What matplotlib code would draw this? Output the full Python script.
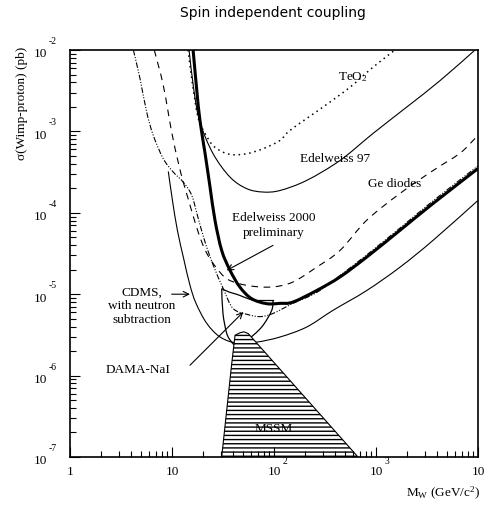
import matplotlib
matplotlib.use('Agg')
import matplotlib.pyplot as plt
import numpy as np
from matplotlib.path import Path
from matplotlib.patches import PathPatch
from matplotlib.transforms import blended_transform_factory, offset_copy

plt.rcParams['font.family'] = 'Liberation Serif'
plt.rcParams['mathtext.fontset'] = 'custom'
plt.rcParams['mathtext.rm'] = 'Liberation Serif'
plt.rcParams['mathtext.it'] = 'Liberation Serif:italic'

# limit curves, WIMP mass (GeV) vs cross section (pb)
edw2000_m = [16.1, 17.5, 18.8, 21.1, 23.6, 26.4, 30.7, 37.1, 46.4, 60.4, 84.8, 114.5, 153, 262, 444, 811,
             1720, 3620, 10000]
edw2000_s = [1e-2, 3.18e-3, 1.36e-3, 5.36e-4, 2.07e-4, 8.07e-5, 3.45e-5, 1.96e-5, 1.22e-5, 8.8e-6, 7.65e-6,
             7.72e-6, 8.0e-6, 1.11e-5, 1.63e-5, 2.86e-5, 6.1e-5, 1.30e-4, 3.5e-4]

dashdot_m = [4.18, 4.86, 5.65, 6.56, 8.22, 10.3, 12.9, 15.6, 18.1, 21.1, 25.4, 31.8, 39.6, 54.4, 72.9, 97.8,
             153, 262, 444, 811, 1720, 3620, 10000]
dashdot_s = [1e-2, 4.43e-3, 1.72e-3, 8.9e-4, 4.61e-4, 3.16e-4, 2.38e-4, 1.64e-4, 8.5e-5, 4.36e-5, 2.26e-5,
             1.17e-5, 6.7e-6, 5.66e-6, 5.3e-6, 5.8e-6, 7.7e-6, 1.05e-5, 1.70e-5, 3.04e-5, 6.5e-5, 1.40e-4, 3.77e-4]

ge_m = [6.7, 8.22, 9.93, 11.5, 12.9, 14.4, 16.8, 19.6, 22.5, 27.0, 33.8, 44.4, 62.3, 97.8, 153, 262, 444, 811,
        1720, 3620, 6660, 9350]
ge_s = [1e-2, 3.66e-3, 9.8e-4, 4.19e-4, 2.38e-4, 1.49e-4, 7.7e-5, 4.36e-5, 3.0e-5, 2.14e-5, 1.57e-5, 1.36e-5,
        1.25e-5, 1.23e-5, 1.41e-5, 2.15e-5, 3.45e-5, 8.1e-5, 1.73e-4, 3.3e-4, 5.4e-4, 8.2e-4]

teo2_m = [14.4, 15.7, 18.0, 21.1, 25.2, 31.6, 39.6, 54.0, 78.0, 114.5, 143.5, 302, 556, 935, 1535]
teo2_s = [1e-2, 4.2e-3, 1.48e-3, 9.44e-4, 6.73e-4, 5.56e-4, 5.16e-4, 5.32e-4, 6.12e-4, 7.74e-4, 1.03e-3,
          1.99e-3, 3.49e-3, 6.15e-3, 1e-2]

edw97_m = [14.7, 16.4, 18.8, 25.2, 37.1, 54.0, 78.0, 114.5, 209, 444, 935, 2000, 4240, 9350]
edw97_s = [1e-2, 3.18e-3, 1.3e-3, 5.36e-4, 2.74e-4, 1.98e-4, 1.80e-4, 1.88e-4, 2.5e-4, 4.4e-4, 9.44e-4,
           1.99e-3, 4.2e-3, 1e-2]

cdms_m = [9.2, 10.1, 11.3, 13.0, 15.0, 17.2, 21.9, 29.6, 43.1, 67.7, 114.5, 209, 379, 811, 1720, 3620, 10000]
cdms_s = [3.22e-4, 1.42e-4, 6.08e-5, 2.75e-5, 1.29e-5, 7.73e-6, 4.39e-6, 2.98e-6, 2.51e-6, 2.58e-6, 2.98e-6,
          3.95e-6, 6.34e-6, 1.11e-5, 2.15e-5, 4.58e-5, 1.42e-4]

# DAMA-NaI allowed region: curved top edge, flat top-right, rounded bottom
dama_top_m = [30.7, 36.5, 43.4, 52.0, 62.2]
dama_top_s = [1.17e-5, 1.06e-5, 9.95e-6, 9.1e-6, 8.4e-6]
dama_low_m = [97.7, 94.8, 75.7, 54.0, 43.0, 38.5, 34.4, 31.6, 30.7]
dama_low_s = [8.4e-6, 6.3e-6, 3.95e-6, 2.7e-6, 2.35e-6, 2.58e-6, 3.3e-6, 5.8e-6, 1.17e-5]

mssm_m = [30.7, 38.5, 41.5, 46.4, 50.8, 56.0, 666]
mssm_s = [1e-7, 1.4e-6, 3.13e-6, 3.36e-6, 3.45e-6, 3.28e-6, 1e-7]

# arrows: (tail, tip)
arr_edw = [(97.8, 3.98e-5), (34.4, 1.96e-5)]
arr_cdms = [(9.93, 1.0e-5), (15.0, 1.0e-5)]
arr_dama = [(15.0, 1.34e-6), (50.0, 6.04e-6)]


def smooth_path(xs, ys):
    # Catmull-Rom through the read points, drawn as Bezier segments in log space
    p = np.column_stack([np.log10(xs), np.log10(ys)])
    ext = np.vstack([p[0], p, p[-1]])
    verts = [p[0]]
    codes = [Path.MOVETO]
    for i in range(len(p) - 1):
        p0, p1, p2, p3 = ext[i], ext[i + 1], ext[i + 2], ext[i + 3]
        verts += [p1 + (p2 - p0) / 6, p2 - (p3 - p1) / 6, p2]
        codes += [Path.CURVE4] * 3
    return Path(10.0 ** np.array(verts), codes)


fig = plt.figure(figsize=(4.85, 5.05), dpi=100)
ax = fig.add_axes([70 / 485, 1 - 457 / 505, 408 / 485, 407 / 505])
ax.set_xscale('log')
ax.set_yscale('log')
ax.set_xlim(1, 1e4)
ax.set_ylim(1e-7, 1e-2)


def curve(xs, ys, **kw):
    ax.add_patch(PathPatch(smooth_path(xs, ys), fill=False, edgecolor='black', **kw))


curve(edw2000_m, edw2000_s, lw=2.2)
curve(dashdot_m, dashdot_s, lw=0.8, linestyle=(0, (5, 1.5, 1, 1.5, 1, 1.5)))
curve(ge_m, ge_s, lw=0.8, linestyle=(0, (6, 5)))
curve(teo2_m, teo2_s, lw=1.1, linestyle=(0, (1, 2.5)))
curve(edw97_m, edw97_s, lw=0.8)
curve(cdms_m, cdms_s, lw=0.8)
curve(dama_top_m, dama_top_s, lw=0.9)
ax.plot([dama_top_m[-1], dama_low_m[0]], [dama_top_s[-1], dama_low_s[0]], color='black', lw=0.9)
curve(dama_low_m, dama_low_s, lw=0.9)
ax.fill(mssm_m, mssm_s, facecolor='white', edgecolor='black', hatch='----', lw=0.8)

fs = 9.5
ax.text(595, 4.63e-3, 'TeO$_{\\mathregular{2}}$', fontsize=fs, ha='center', va='center')
ax.text(396, 4.61e-4, 'Edelweiss 97', fontsize=fs, ha='center', va='center')
ax.text(1535, 2.28e-4, 'Ge diodes', fontsize=fs, ha='center', va='center')
ax.text(98.4, 7.0e-5, 'Edelweiss 2000\npreliminary', fontsize=fs, ha='center', va='center', linespacing=1.3)
ax.text(5.05, 7.1e-6, 'CDMS,\nwith neutron\nsubtraction', fontsize=fs, ha='center', va='center', linespacing=1.2)
ax.text(4.67, 1.16e-6, 'DAMA-NaI', fontsize=fs, ha='center', va='center')
ax.text(98.4, 2.23e-7, 'MSSM', fontsize=fs, ha='center', va='center')

for tail, tip in [arr_edw, arr_cdms, arr_dama]:
    ax.annotate('', xy=tip, xytext=tail,
                arrowprops=dict(arrowstyle='->', lw=0.8, color='black', shrinkA=0, shrinkB=0,
                                mutation_scale=10))

for sp in ax.spines.values():
    sp.set_linewidth(1.2)
ax.tick_params(which='both', direction='in', top=False, right=False,
               labelleft=False, labelbottom=False, width=0.8)
ax.tick_params(which='major', length=7)
ax.tick_params(which='minor', length=4)

# tick labels in the "10 ^exp" style
ytr = blended_transform_factory(ax.transAxes, ax.transData)
for e in range(-7, -1):
    ax.text(0, 10.0 ** e, '10', fontsize=fs, ha='right', va='center',
            transform=offset_copy(ytr, fig=fig, x=-23.3 * 0.72, y=-4.5 * 0.72, units='points'))
    ax.text(0, 10.0 ** e, str(e), fontsize=7, ha='left', va='center',
            transform=offset_copy(ytr, fig=fig, x=-21.5 * 0.72, y=8.5 * 0.72, units='points'))

xtr = blended_transform_factory(ax.transData, ax.transAxes)
ax.text(1, 0, '1', fontsize=fs, ha='center', va='center',
        transform=offset_copy(xtr, fig=fig, x=0, y=-14.7 * 0.72, units='points'))
for e in range(1, 5):
    ax.text(10.0 ** e, 0, '10', fontsize=fs, ha='center', va='center', clip_on=False,
            transform=offset_copy(xtr, fig=fig, x=0, y=-14.7 * 0.72, units='points'))
    if e > 1:
        ax.text(10.0 ** e, 0, str(e), fontsize=7, ha='left', va='center',
                transform=offset_copy(xtr, fig=fig, x=9 * 0.72, y=-4.7 * 0.72, units='points'))

fig.text(480 / 485, 1 - 493 / 505, 'M$_{\\mathregular{W}}$ (GeV/c$^{\\mathregular{2}}$)', fontsize=fs,
         ha='right', va='center')
fig.text(21.7 / 485, 1 - 47 / 505, 'σ(Wimp-proton) (pb)', fontsize=fs, rotation=90, ha='center', va='top')
fig.text(273 / 485, 1 - 13 / 505, 'Spin independent coupling', fontsize=10, family='DejaVu Sans',
         ha='center', va='center')

fig.savefig('out.png', dpi=100)
